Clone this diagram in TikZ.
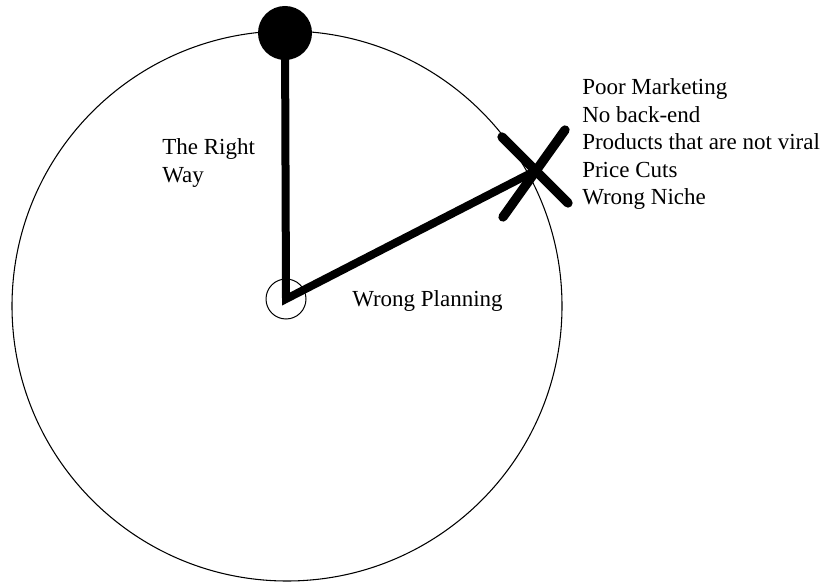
\documentclass[tikz,border=0pt]{standalone}
\usepackage{fontspec}
\setmainfont{Liberation Serif}
\usetikzlibrary{positioning}

\begin{document}
\begin{tikzpicture}[x=0.75pt,y=-0.75pt,line cap=round,font=\fontsize{17.25}{20.7}\selectfont]
\useasboundingbox (0,0) rectangle (828,584);
\fill[white] (0,0) rectangle (828,584);
% dial
\draw[line width=0.8pt] (287,306) circle (275);
\node[draw,circle,minimum size=30pt,inner sep=0pt,line width=0.75pt] (hub) at (286,299) {};
\node[fill,circle,minimum size=40.5pt,inner sep=0pt] (knob) at (285,33) {};
\coordinate (cross) at (535,171);
\draw[line width=6pt,line join=miter] (knob.center) -- (hub.center) -- (cross);
% the cross
\draw[line width=7pt] (502,137) -- (568,203);
\draw[line width=7pt] (565,130) -- (503,217);
% labels
\node[anchor=base west,align=left,inner sep=0pt] (rightway) at (162,182.5) {The Right\\Way};
\node[anchor=base west,inner sep=0pt] (planning) at (352,307) {Wrong Planning};
\node[anchor=base west,align=left,inner sep=0pt] (reasons) at (582,205) {Poor Marketing\\No back-end\\Products that are not viral\\Price Cuts\\Wrong Niche};
\end{tikzpicture}
\end{document}
